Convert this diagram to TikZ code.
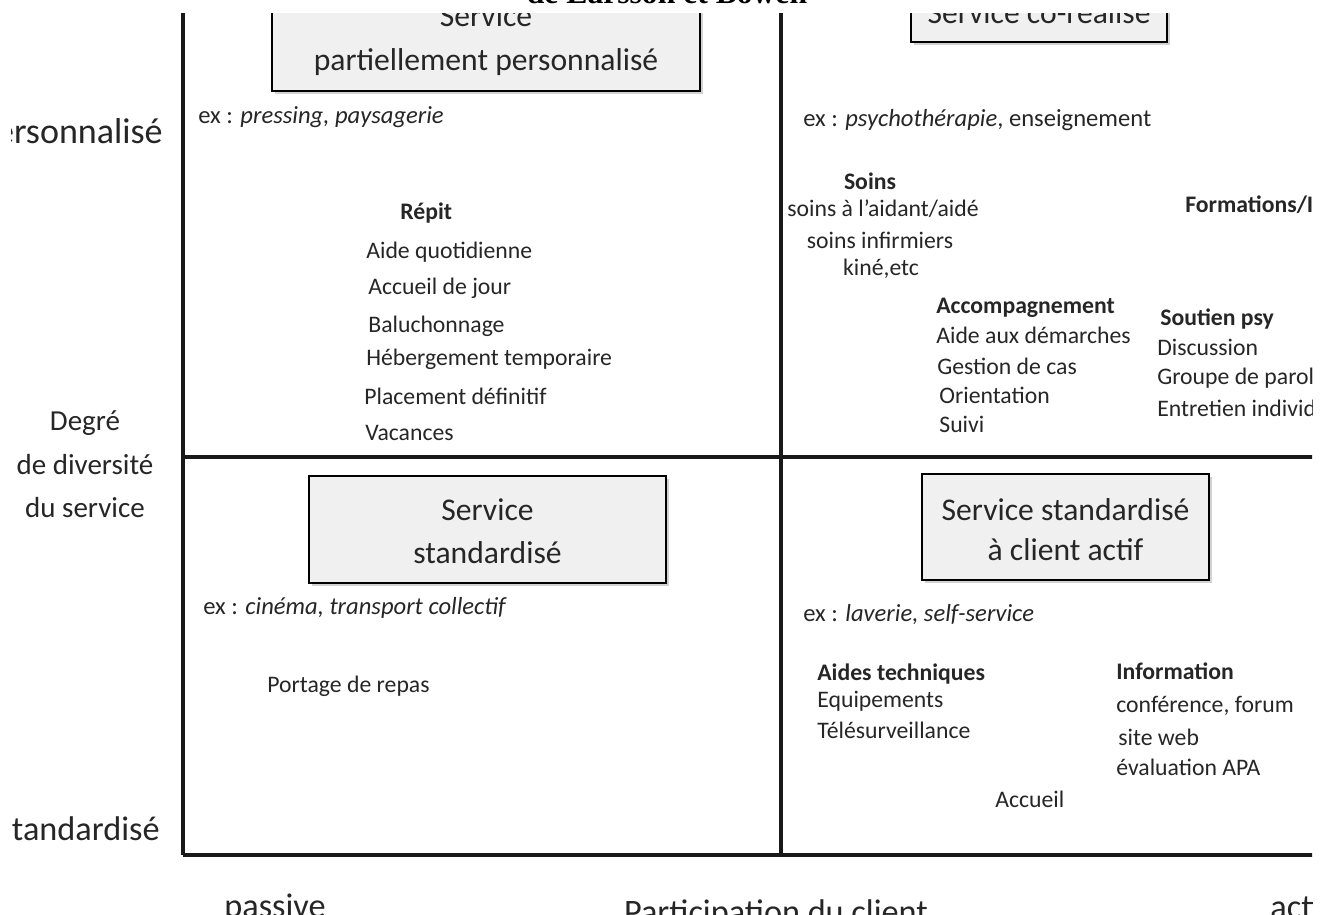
\documentclass[tikz,border=0pt]{standalone}
\usepackage{fontspec}
\setmainfont{Carlito}
\newfontfamily\titlefont{Liberation Serif}
\usetikzlibrary{shadows}

\begin{document}
\begin{tikzpicture}[x=0.02cm,y=-0.02cm,
every node/.style={inner sep=0,text=black!85},
item/.style={anchor=base west,font=\fontsize{13.5}{16}\selectfont},
head/.style={anchor=base west,font=\fontsize{13.5}{16}\selectfont\bfseries},
exline/.style={anchor=base west,font=\fontsize{14}{16}\selectfont},
axis/.style={line width=1.8pt,black!90},
typebox/.style={draw,line width=1.2pt,fill=black!6,
  drop shadow={opacity=0.35,shadow xshift=1.5pt,shadow yshift=-1.5pt}},
boxtext/.style={align=center,font=\fontsize{18}{25}\selectfont},
endlabel/.style={font=\fontsize{19.5}{22}\selectfont},
degre/.style={anchor=base,font=\fontsize{16.5}{20}\selectfont}]
\useasboundingbox (0,0) rectangle (1327,914);
\fill[white] (0,0) rectangle (1327,914);

\begin{scope}
\clip (11,13) rectangle (1312,914);

% axes et quadrants
\coordinate (topL) at (183,0);
\coordinate (botL) at (183,855);
\coordinate (topM) at (781,0);
\coordinate (botM) at (781,855);
\coordinate (midL) at (183,457);
\coordinate (midR) at (1327,457);
\coordinate (botR) at (1327,855);
\draw[axis] (topL) -- (botL);
\draw[axis] (topM) -- (botM);
\draw[axis] (midL) -- (midR);
\draw[axis,line width=2.4pt] (botL) -- (botR);

\node[typebox,minimum width=8.56cm,minimum height=2.04cm] (partiel) at (486,40) {};
\node[boxtext] (partielText) at (partiel.center) [yshift=-0.3pt] {Service\\partiellement personnalisé};
\node[typebox,minimum width=5.12cm,minimum height=1.16cm] (coreal) at (1039,13) {};
\node[boxtext] (corealText) at (coreal.center) {Service co-réalisé};
\node[typebox,minimum width=7.14cm,minimum height=2.14cm] (standard) at (487.5,529.5) {};
\node[boxtext,font=\fontsize{18}{24.4}\selectfont] (standardText) at (487.5,531.5) {Service\\standardisé};
\node[typebox,minimum width=5.74cm,minimum height=2.12cm] (actif) at (1065.5,527) {};
\node[boxtext,font=\fontsize{18}{22.7}\selectfont] (actifText) at (1065.5,530) {Service standardisé\\à client actif};

\node[endlabel,anchor=base east,font=\fontsize{20.5}{22}\selectfont] (perso) at (163,143) {Personnalisé};
\node[degre] (degre1) at (85,430) {Degré};
\node[degre] (degre2) at (85,474) {de diversité};
\node[degre] (degre3) at (85,517) {du service};
\node[endlabel,anchor=base east] (stand) at (160,840) {Standardisé};
\node[endlabel,anchor=base] (passive) at (275,917) {passive};
\node[endlabel,anchor=base] (particip) at (776,923) {Participation du client};
\node[endlabel,anchor=base west] (active) at (1270,918) {active};

% personnalise, client passif
\node[exline] (exPerso) at (198,123) {ex : \textit{pressing, paysagerie}};
\node[head] (repit) at (400,219) {Répit};
\node[item] (aideQ) at (366,258) {Aide quotidienne};
\node[item] (accJour) at (368,294) {Accueil de jour};
\node[item] (baluch) at (368,332) {Baluchonnage};
\node[item] (heberg) at (366,365) {Hébergement temporaire};
\node[item] (placem) at (364,404) {Placement définitif};
\node[item] (vacances) at (365,440) {Vacances};

% personnalise, client actif
\node[exline] (exCoreal) at (803,126) {ex : \textit{psychothérapie}, enseignement};
\node[head,anchor=base] (soins) at (870,189) {Soins};
\node[item,anchor=base] (soinsAid) at (883,216) {soins à l'aidant/aidé};
\node[item,anchor=base] (soinsInf) at (880,248) {soins infirmiers};
\node[item,anchor=base] (kine) at (881,275) {kiné,etc};
\node[head] (format) at (1185,212) {Formations/Information};
\node[head] (accomp) at (936,313) {Accompagnement};
\node[item] (demarch) at (936,343) {Aide aux démarches};
\node[item] (gestion) at (937,374) {Gestion de cas};
\node[item] (orient) at (939,403) {Orientation};
\node[item] (suivi) at (939,432) {Suivi};
\node[head] (soutien) at (1160,325) {Soutien psy};
\node[item] (discus) at (1157,355) {Discussion};
\node[item] (groupe) at (1157,384) {Groupe de parole};
\node[item] (entret) at (1157,416) {Entretien individuel};

% standardise
\node[exline] (exStand) at (203,614) {ex : \textit{cinéma, transport collectif}};
\node[item] (portage) at (267,692) {Portage de repas};
\node[exline] (exActif) at (803,621) {ex : \textit{laverie, self-service}};
\node[head] (aidesTech) at (817,680) {Aides techniques};
\node[item] (equip) at (817,707) {Equipements};
\node[item] (telesurv) at (817,738) {Télésurveillance};
\node[head] (info) at (1116,679) {Information};
\node[item] (confer) at (1116,712) {conférence, forum};
\node[item] (siteweb) at (1118,745) {site web};
\node[item] (evalAPA) at (1116,775) {évaluation APA};
\node[item] (accueil) at (995,807) {Accueil};
\end{scope}

\begin{scope}
\clip (0,0) rectangle (1327,914);
\node[anchor=base,font=\titlefont\fontsize{18}{20}\selectfont\bfseries,text=black] (title) at (667,3) {de Larsson et Bowen};
\end{scope}
\end{tikzpicture}
\end{document}
